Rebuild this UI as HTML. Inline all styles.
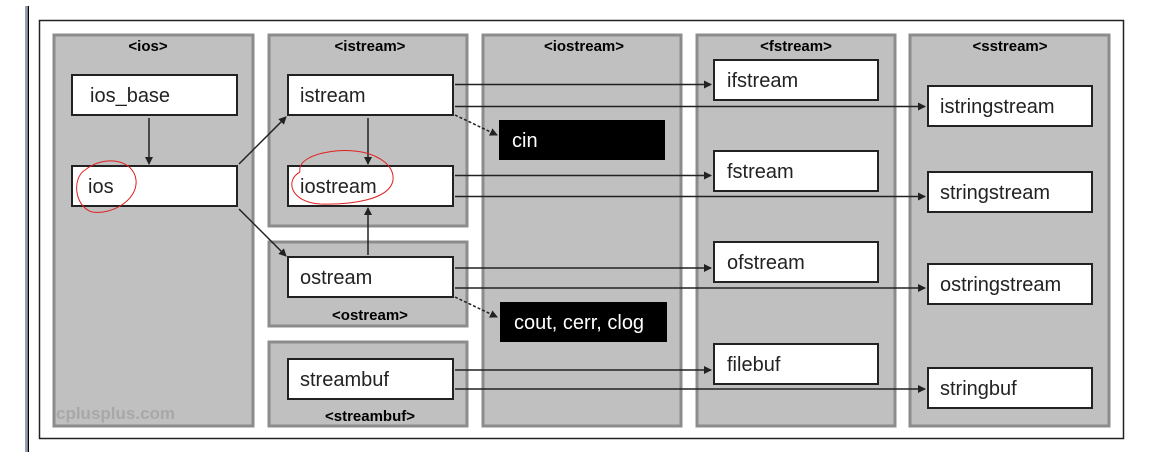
<!DOCTYPE html>
<html><head><style>
html,body{margin:0;padding:0;background:#fff;}
svg{display:block;}
text{font-family:"Liberation Sans",sans-serif;}
.p{fill:#c0c0c0;stroke:#8c8c8c;stroke-width:3;}
.b{fill:#fff;stroke:#222;stroke-width:2;}
.k{fill:#000;}
.t{font-size:20px;fill:#222;}
.w{font-size:20px;fill:#fff;}
.h{font-size:15px;font-weight:bold;fill:#000;text-anchor:middle;}
.l{stroke:#222;stroke-width:1.5;fill:none;}
</style></head><body>
<svg width="1158" height="461" viewBox="0 0 1158 461">
<defs><marker id="a" markerWidth="8" markerHeight="8" refX="7" refY="4" orient="auto" markerUnits="userSpaceOnUse"><path d="M0,0 L8,4 L0,8 z" fill="#222"/></marker></defs>
<rect x="25" y="6" width="2" height="446" fill="#8fa0b8"/>
<rect x="27.5" y="6" width="1.5" height="446" fill="#000"/>
<rect x="39.5" y="20.5" width="1084" height="418" fill="#fff" stroke="#222" stroke-width="1.5"/>
<rect class="p" x="54" y="35" width="199" height="391"/>
<rect class="p" x="269" y="35" width="198" height="191"/>
<rect class="p" x="269" y="242" width="198" height="84"/>
<rect class="p" x="269" y="342" width="198" height="84"/>
<rect class="p" x="483" y="35" width="198" height="391"/>
<rect class="p" x="697" y="35" width="198" height="391"/>
<rect class="p" x="910" y="35" width="199" height="391"/>
<text class="h" x="148" y="51">&lt;ios&gt;</text>
<text class="h" x="370" y="51">&lt;istream&gt;</text>
<text class="h" x="370" y="320">&lt;ostream&gt;</text>
<text class="h" x="370" y="421">&lt;streambuf&gt;</text>
<text class="h" x="584" y="51">&lt;iostream&gt;</text>
<text class="h" x="796" y="51">&lt;fstream&gt;</text>
<text class="h" x="1010" y="51">&lt;sstream&gt;</text>
<text x="56" y="419" style="font-size:17px;font-weight:bold;fill:#a8a8a8;">cplusplus.com</text>
<rect class="b" x="72" y="75" width="165" height="40"/><text class="t" x="90" y="102">ios_base</text>
<rect class="b" x="72" y="166" width="165" height="40"/><text class="t" x="88" y="193">ios</text>
<rect class="b" x="288" y="75" width="165" height="40"/><text class="t" x="300" y="102">istream</text>
<rect class="b" x="288" y="166" width="165" height="40"/><text class="t" x="300" y="193">iostream</text>
<rect class="b" x="288" y="257" width="165" height="40"/><text class="t" x="300" y="284">ostream</text>
<rect class="b" x="288" y="359" width="165" height="40"/><text class="t" x="300" y="386">streambuf</text>
<rect class="k" x="499" y="120" width="166" height="40"/><text class="w" x="512" y="147">cin</text>
<rect class="k" x="500" y="302" width="167" height="40"/><text class="w" x="514" y="329">cout, cerr, clog</text>
<rect class="b" x="714" y="60" width="164" height="40"/><text class="t" x="727" y="87">ifstream</text>
<rect class="b" x="714" y="151" width="164" height="40"/><text class="t" x="727" y="178">fstream</text>
<rect class="b" x="714" y="242" width="164" height="40"/><text class="t" x="727" y="269">ofstream</text>
<rect class="b" x="714" y="344" width="164" height="40"/><text class="t" x="727" y="371">filebuf</text>
<rect class="b" x="928" y="86" width="164" height="40"/><text class="t" x="940" y="113">istringstream</text>
<rect class="b" x="928" y="172" width="164" height="40"/><text class="t" x="940" y="199">stringstream</text>
<rect class="b" x="928" y="264" width="164" height="40"/><text class="t" x="940" y="291">ostringstream</text>
<rect class="b" x="928" y="368" width="164" height="40"/><text class="t" x="940" y="395">stringbuf</text>
<g class="l">
<line x1="149" y1="118" x2="149" y2="164" marker-end="url(#a)"/>
<line x1="368" y1="118" x2="368" y2="164" marker-end="url(#a)"/>
<line x1="368" y1="255" x2="368" y2="208" marker-end="url(#a)"/>
<line x1="239" y1="164" x2="286" y2="117" marker-end="url(#a)"/>
<line x1="239" y1="209" x2="286" y2="256" marker-end="url(#a)"/>
<line x1="455" y1="115" x2="497" y2="135" stroke-dasharray="3,2" marker-end="url(#a)"/>
<line x1="455" y1="297" x2="497" y2="317" stroke-dasharray="3,2" marker-end="url(#a)"/>
<line x1="455" y1="84.5" x2="711" y2="84.5" marker-end="url(#a)"/>
<line x1="455" y1="106.5" x2="925" y2="106.5" marker-end="url(#a)"/>
<line x1="455" y1="175.5" x2="711" y2="175.5" marker-end="url(#a)"/>
<line x1="455" y1="196.5" x2="925" y2="196.5" marker-end="url(#a)"/>
<line x1="455" y1="268" x2="711" y2="268" marker-end="url(#a)"/>
<line x1="455" y1="288" x2="925" y2="288" marker-end="url(#a)"/>
<line x1="455" y1="370" x2="711" y2="370" marker-end="url(#a)"/>
<line x1="455" y1="389" x2="925" y2="389" marker-end="url(#a)"/>
</g>
<g fill="none" stroke="#e02020" stroke-width="1">
<path d="M85,170 C72,178 74,206 92,212 C112,215 138,200 136,180 C134,160 105,154 85,170"/>
<path d="M300,172 C285,180 290,202 320,204 C350,205 390,200 393,180 C395,162 370,148 335,151 C310,154 298,162 300,172"/>
</g>
</svg>
</body></html>
